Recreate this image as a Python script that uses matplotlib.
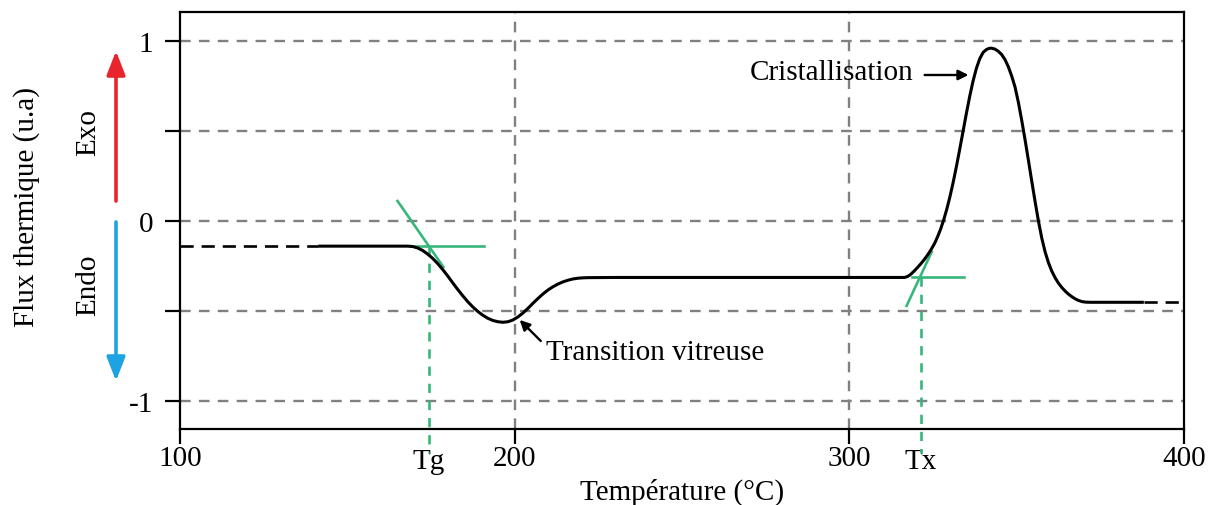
import matplotlib
matplotlib.use("Agg")
import matplotlib.pyplot as plt
from matplotlib.patches import FancyArrowPatch

plt.rcParams['font.family'] = ['Liberation Serif', 'DejaVu Serif']

# ---------------- data ----------------
temperature = [141.3, 150.0, 160.0, 168.0, 169.5, 171.0, 172.5, 174.0, 175.5, 177.0,
               178.5, 180.0, 181.5, 183.0, 184.5, 186.0, 187.5, 189.0, 190.5, 192.0,
               193.5, 195.0, 196.5, 198.0, 199.5, 201.0, 202.5, 204.0, 205.5, 207.0,
               208.5, 210.0, 211.5, 213.0, 214.5, 216.0, 217.5, 219.0, 220.5, 222.0,
               230.0, 260.0, 290.0, 316.5, 317.5, 318.5, 319.5, 320.5, 321.5, 322.5,
               323.5, 324.5, 325.5, 326.5, 327.3, 328.2, 329.1, 330.0, 331.0, 332.0,
               333.0, 334.0, 335.0, 336.0, 337.0, 338.0, 339.0, 340.0, 341.0, 341.8,
               342.5, 343.5, 344.5, 345.5, 346.5, 347.5, 348.5, 349.5, 350.5, 351.5,
               352.5, 353.5, 354.5, 355.5, 356.5, 357.5, 358.5, 359.5, 360.5, 361.5,
               362.5, 363.5, 364.5, 365.5, 366.5, 367.5, 368.5, 369.5, 370.5, 372.0,
               388.0]
flux = [-0.140, -0.140, -0.140, -0.140, -0.142, -0.150, -0.164, -0.184, -0.208, -0.237,
        -0.270, -0.306, -0.344, -0.381, -0.416, -0.449, -0.478, -0.503, -0.524, -0.541,
        -0.553, -0.560, -0.563, -0.560, -0.550, -0.533, -0.511, -0.485, -0.457, -0.430,
        -0.405, -0.383, -0.365, -0.350, -0.338, -0.329, -0.322, -0.318, -0.316, -0.315,
        -0.314, -0.314, -0.314, -0.314, -0.308, -0.294, -0.276, -0.256, -0.235, -0.212,
        -0.186, -0.157, -0.124, -0.082, -0.044, 0.006, 0.064, 0.130, 0.212, 0.303,
        0.400, 0.500, 0.600, 0.695, 0.780, 0.850, 0.903, 0.937, 0.953, 0.959,
        0.960, 0.955, 0.943, 0.925, 0.897, 0.857, 0.806, 0.745, 0.660, 0.560,
        0.452, 0.338, 0.222, 0.108, 0.000, -0.095, -0.172, -0.232, -0.279, -0.316,
        -0.346, -0.370, -0.390, -0.407, -0.421, -0.433, -0.442, -0.448, -0.451, -0.452,
        -0.452]

dash_left_x = [100.0, 141.3]
dash_left_y = [-0.140, -0.140]
dash_right_x = [388.0, 400.0]
dash_right_y = [-0.452, -0.452]

tg_slope_x = [165.0, 178.7]
tg_slope_y = [0.111, -0.256]
tg_base_x = [169.0, 190.7]
tg_base_y = [-0.140, -0.140]
tg_value = 174.3

tx_slope_x = [317.1, 324.6]
tx_slope_y = [-0.472, -0.172]
tx_base_x = [318.6, 334.4]
tx_base_y = [-0.310, -0.310]
tx_value = 321.3

x_ticks = [100, 200, 300, 400]
y_ticks = [-1, -0.5, 0, 0.5, 1]
y_tick_labels = ['-1', '', '0', '', '1']

# ---------------- figure ----------------
W, H = 1221, 506
fig = plt.figure(figsize=(W / 100, H / 100), dpi=100)
ax = fig.add_axes([180 / W, 1 - 430 / H, (1184 - 180) / W, (430 - 13) / H])

FS = 21
green = '#36b67a'
grid_col = '#808080'

ax.set_xlim(100, 400)
ax.set_ylim(-1.156, 1.161)

ax.set_xticks(x_ticks)
ax.set_xticklabels([str(t) for t in x_ticks], fontsize=FS)
ax.set_yticks(y_ticks)
ax.set_yticklabels(y_tick_labels, fontsize=FS)
ax.tick_params(axis='both', which='major', direction='out', length=10.5, width=1.6, color='black')
ax.tick_params(axis='x', which='major', pad=1)
ax.tick_params(axis='y', which='major', pad=9)

# Tg / Tx as minor tick labels
ax.set_xticks([tg_value, tx_value], minor=True)
ax.set_xticklabels(['Tg', 'Tx'], minor=True, fontsize=FS)
ax.tick_params(axis='x', which='minor', length=0, pad=14)

for s in ax.spines.values():
    s.set_linewidth(1.6)

# grid
for y in y_ticks:
    ax.axhline(y, color=grid_col, lw=1.7, ls=(0, (4.5, 3.5)), zorder=1)
for x in [200, 300]:
    ax.axvline(x, color=grid_col, lw=1.7, ls=(0, (4.5, 3.5)), zorder=1)

# main curve
ax.plot(temperature, flux, color='black', lw=2.2, zorder=4,
        solid_joinstyle='round', solid_capstyle='butt')
ax.plot(dash_left_x, dash_left_y, color='black', lw=1.9, ls=(0, (5, 3)), zorder=4)
ax.plot(dash_right_x, dash_right_y, color='black', lw=1.9, ls=(0, (5, 3)), zorder=4)

# tangents
ax.plot(tg_slope_x, tg_slope_y, color=green, lw=1.9, zorder=3)
ax.plot(tg_base_x, tg_base_y, color=green, lw=1.9, zorder=3)
ax.plot([tg_value, tg_value], [tg_base_y[0], -1.29], color=green, lw=1.9,
        ls=(0, (3.5, 3)), zorder=3, clip_on=False)
ax.plot(tx_slope_x, tx_slope_y, color=green, lw=1.9, zorder=3)
ax.plot(tx_base_x, tx_base_y, color=green, lw=1.9, zorder=3)
ax.plot([tx_value, tx_value], [tx_base_y[0], -1.29], color=green, lw=1.9,
        ls=(0, (3.5, 3)), zorder=3, clip_on=False)

# annotations
ax.text(209.3, -0.73, 'Transition vitreuse', fontsize=FS, ha='left', va='center')
ax.annotate('', xy=(201.5, -0.55), xytext=(207.8, -0.667),
            arrowprops=dict(arrowstyle='-|>', color='black', lw=1.7,
                            mutation_scale=15, shrinkA=0, shrinkB=0))
ax.text(319.2, 0.83, 'Cristallisation', fontsize=FS, ha='right', va='center')
ax.annotate('', xy=(335.6, 0.811), xytext=(322.5, 0.811),
            arrowprops=dict(arrowstyle='-|>', color='black', lw=1.7,
                            mutation_scale=15, shrinkA=0, shrinkB=0))

ax.set_xlabel('Température (°C)', fontsize=FS, labelpad=2.5)

# left side labels and arrows (figure pixel coordinates)
def fx(px):
    return px / W

def fy(py):
    return 1 - py / H

fig.text(fx(27), fy(207), 'Flux thermique (u.a)', rotation=90, fontsize=FS,
         ha='center', va='center')
fig.text(fx(88), fy(133), 'Exo', rotation=90, fontsize=FS, ha='center', va='center')
fig.text(fx(88), fy(285), 'Endo', rotation=90, fontsize=FS, ha='center', va='center')

fig.patches.append(FancyArrowPatch(
    (fx(116), fy(202)), (fx(116), fy(52)), transform=fig.transFigure,
    arrowstyle='-|>,head_length=0.9,head_width=0.35', mutation_scale=16,
    color='#e8242c', lw=2.6, shrinkA=0, shrinkB=0))
fig.patches.append(FancyArrowPatch(
    (fx(116), fy(223)), (fx(116), fy(382)), transform=fig.transFigure,
    arrowstyle='-|>,head_length=0.9,head_width=0.35', mutation_scale=16,
    color='#1ea3e2', lw=2.6, shrinkA=0, shrinkB=0))

fig.savefig('out.png', dpi=100)
